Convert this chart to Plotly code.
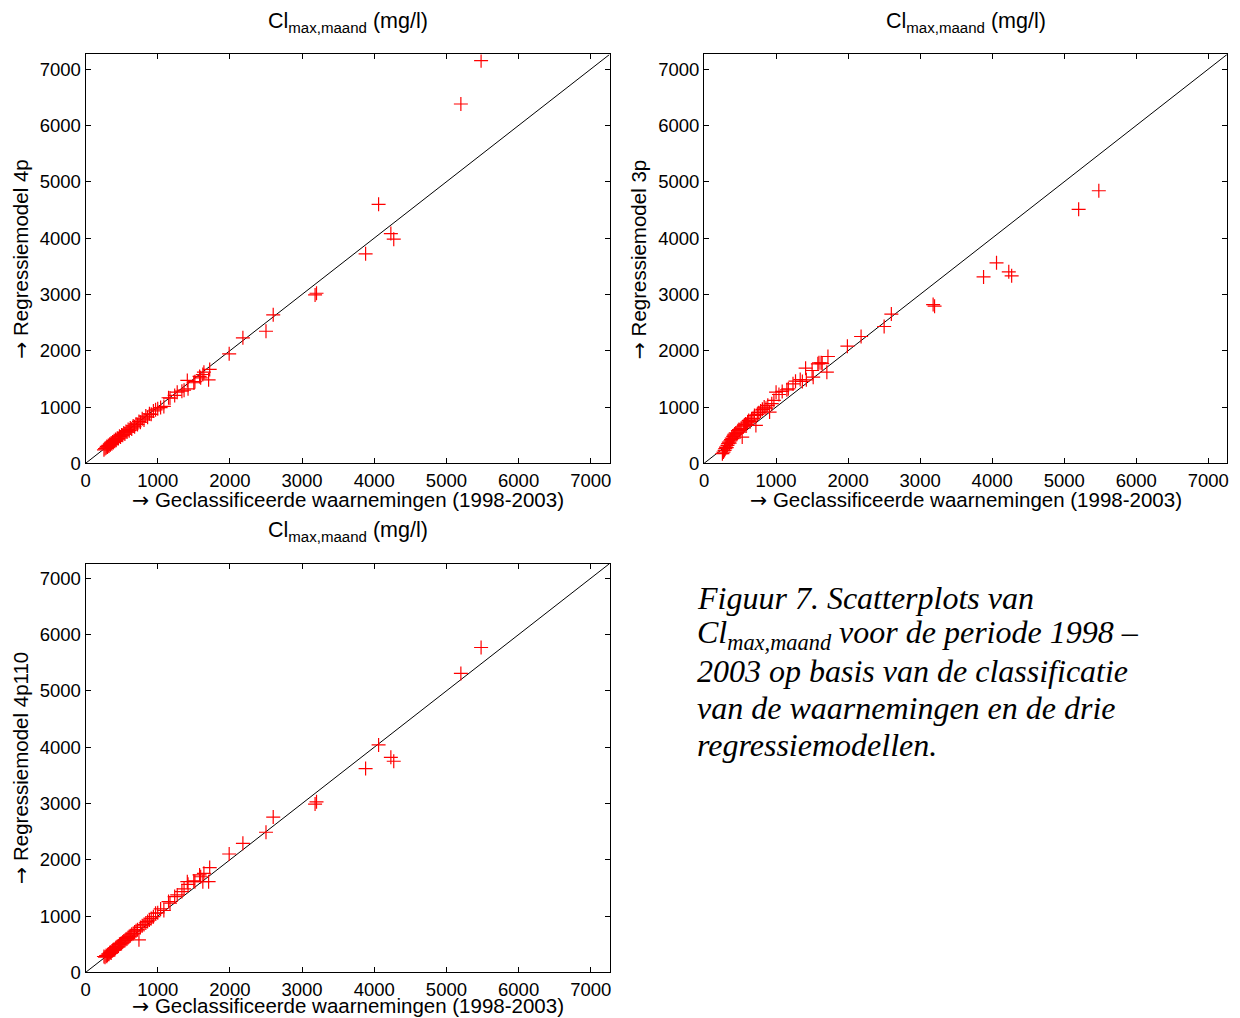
import plotly.graph_objects as go

# Observed (classified) monthly max chloride, mg/l
observed = [255, 270, 285, 295, 305, 315, 325, 335, 345, 355, 365, 375, 385, 395, 405, 415,
            425, 440, 455, 470, 485, 500, 515, 530, 545, 560, 575, 590, 605, 620, 640, 660,
            680, 700, 720, 740, 760, 785, 810, 835, 860, 885, 910, 940, 970, 1000, 1040, 1085,
            1150, 1170, 1235, 1270, 1335, 1365, 1410, 1420, 1500, 1515, 1580, 1595, 1625, 1640,
            1705, 1720, 1990, 2180, 2500, 2600, 3180, 3200, 3880, 4060, 4230, 4270, 5200, 5480]

model_4p = [240, 262, 275, 300, 290, 318, 310, 340, 330, 362, 350, 380, 372, 400, 392, 425,
            410, 445, 440, 480, 470, 505, 500, 540, 520, 565, 555, 600, 580, 630, 610, 665,
            650, 700, 690, 745, 730, 790, 770, 840, 820, 880, 870, 930, 950, 970, 990, 1011,
            1165, 1160, 1206, 1264, 1282, 1300, 1472, 1324, 1431, 1450, 1543, 1519, 1578, 1619,
            1484, 1667, 1944, 2229, 2346, 2637, 2990, 3020, 3720, 4600, 4080, 3980, 6380, 7150]

model_3p = [172, 200, 230, 260, 289, 280, 320, 350, 378, 360, 400, 420, 450, 440, 480, 500,
            520, 540, 530, 580, 600, 555, 620, 466, 660, 680, 700, 690, 733, 760, 740, 790,
            800, 851, 674, 870, 900, 930, 960, 999, 980, 1030, 910, 1060, 1117, 1264, 1223, 1277,
            1306, 1324, 1413, 1459, 1489, 1454, 1690, 1484, 1649, 1530, 1767, 1785, 1785, 1770,
            1619, 1897, 2080, 2252, 2430, 2650, 2820, 2790, 3310, 3560, 3400, 3330, 4510, 4840]

model_4p110 = [284, 270, 300, 290, 310, 330, 325, 350, 360, 345, 380, 390, 402, 410, 402, 430,
               450, 460, 470, 500, 510, 520, 540, 560, 570, 590, 600, 620, 638, 650, 680, 690,
               720, 740, 760, 579, 800, 830, 850, 880, 904, 930, 960, 990, 1052, 1060, 1129, 1100,
               1259, 1230, 1347, 1377, 1436, 1484, 1613, 1566, 1626, 1613, 1732, 1700, 1613, 1761,
               1613, 1862, 2104, 2293, 2490, 2760, 2990, 3030, 3620, 4040, 3820, 3750, 5310, 5770]

tick_vals = [0, 1000, 2000, 3000, 4000, 5000, 6000, 7000]
axis_max = 7260

ARROW = '<span style="font-family:DejaVu Sans">→</span>'
panels = [
    ("x", "y", model_4p, ARROW + " Regressiemodel 4p"),
    ("x2", "y2", model_3p, ARROW + " Regressiemodel 3p"),
    ("x3", "y3", model_4p110, ARROW + " Regressiemodel 4p110"),
]

W, H = 1240, 1018


def py(Y):
    # vertical pixel position (compensated)
    return 55 + (Y - 55) / 0.988


# pixel boxes (left, right, top, bottom) and x-title offset below the axis
boxes = [(81, 608, 55, 463), (703, 1229, 55, 463), (81, 608, 563, 971)]
xtitle_gap = [36.5, 36.5, 33]

fig = go.Figure()
for (xa, ya, model, _), _b in zip(panels, boxes):
    fig.add_trace(go.Scatter(x=[0, axis_max], y=[0, axis_max], mode="lines",
                             line=dict(color="black", width=1), xaxis=xa, yaxis=ya,
                             showlegend=False, hoverinfo="skip"))
    fig.add_trace(go.Scatter(x=observed, y=model, mode="markers",
                             marker=dict(symbol="cross-thin-open", size=10, color="#ff0000",
                                         line=dict(color="#ff0000", width=1.2)),
                             xaxis=xa, yaxis=ya, showlegend=False))

FONT = "Liberation Sans, Arial, sans-serif"
axis_common = dict(range=[0, axis_max], tickvals=tick_vals, ticks="inside", ticklen=5,
                   tickcolor="black", showline=True, linecolor="black", linewidth=1,
                   mirror="ticks", showgrid=False, zeroline=False,
                   tickfont=dict(family=FONT, size=18.5, color="black"))

layout = dict(width=W, height=H, margin=dict(l=0, r=0, t=0, b=0),
              paper_bgcolor="white", plot_bgcolor="white", showlegend=False)

annotations = []
for i, ((xa, ya, _, ylab), (l, r, t, b), gap) in enumerate(zip(panels, boxes, xtitle_gap)):
    suffix = "" if i == 0 else str(i + 1)
    xdom = [l / W, r / W]
    ydom = [1 - py(b) / H, 1 - py(t) / H]
    layout["xaxis" + suffix] = dict(domain=xdom, anchor="y" + suffix, **axis_common)
    layout["yaxis" + suffix] = dict(domain=ydom, anchor="x" + suffix, **axis_common)
    cx = (l + r) / 2 / W
    annotations.append(dict(text="Cl<sub>max,maand</sub> (mg/l)", x=cx, y=1 - py(t - 32) / H,
                            xref="paper", yref="paper", xanchor="center", yanchor="middle",
                            showarrow=False, font=dict(family=FONT, size=21.5, color="black")))
    annotations.append(dict(text=ARROW + " Geclassificeerde waarnemingen (1998-2003)", x=cx,
                            y=1 - py(b + gap) / H, xref="paper", yref="paper",
                            xanchor="center", yanchor="middle", showarrow=False,
                            font=dict(family=FONT, size=20.5, color="black")))
    annotations.append(dict(text=ylab, x=(l - 65) / W, y=1 - py((t + b) / 2) / H,
                            xref="paper", yref="paper", xanchor="center", yanchor="middle",
                            textangle=-90, showarrow=False,
                            font=dict(family=FONT, size=20.5, color="black")))

caption_lines = [
    "<i>Figuur 7. Scatterplots van</i>",
    "<i>Cl<sub>max,maand</sub> voor de periode 1998 –</i>",
    "<i>2003 op basis van de classificatie</i>",
    "<i>van de waarnemingen en de drie</i>",
    "<i>regressiemodellen.</i>",
]
caption_y = [597, 634, 670, 707, 744]
for txt, yy in zip(caption_lines, caption_y):
    annotations.append(dict(text=txt, x=694 / W, y=1 - py(yy) / H, xref="paper", yref="paper",
                            xanchor="left", yanchor="middle", showarrow=False,
                            font=dict(family="Liberation Serif, Times New Roman, serif",
                                      size=32, color="black")))

layout["annotations"] = annotations
fig.update_layout(**layout)
fig.write_html("out.html")
